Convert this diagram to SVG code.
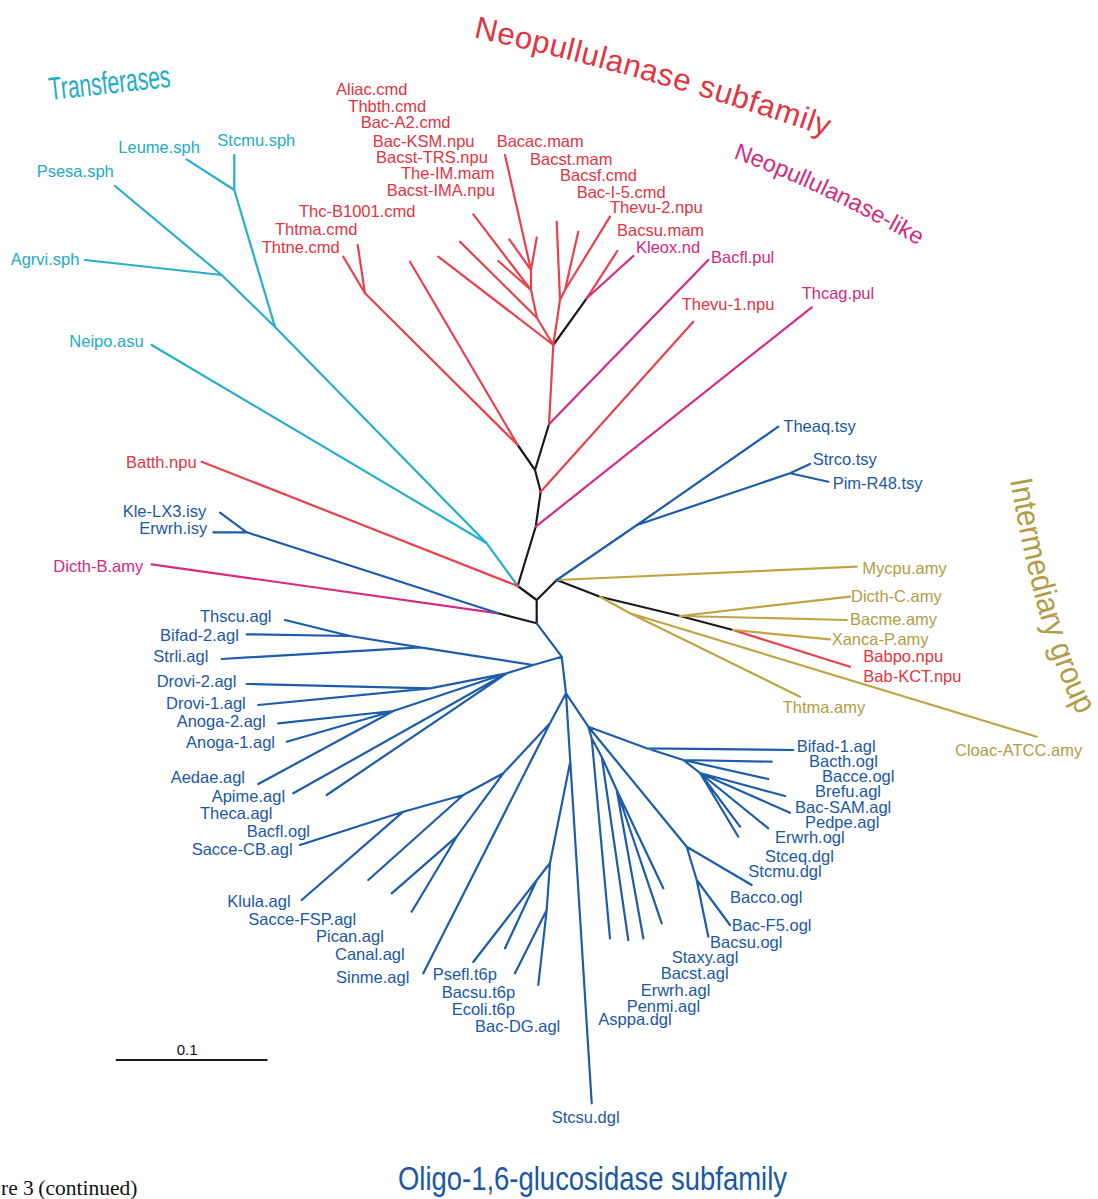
<svg xmlns="http://www.w3.org/2000/svg" width="1098" height="1199" viewBox="0 0 1098 1199">
<defs>
<style>
.e{fill:none;stroke-width:2.2;stroke-linecap:round;stroke-linejoin:round}
.k{stroke:#1a1a1a}.c{stroke:#25b0c8}.r{stroke:#e8414b}.m{stroke:#d62b80}.b{stroke:#1d5ca8}.g{stroke:#bfa446}
text{font-family:"Liberation Sans",Arial,sans-serif;font-size:16.5px}
.tc{fill:#22acc5}.tr{fill:#e5333f}.tm{fill:#d42a7e}.tb{fill:#1b58a3}.tg{fill:#b39c45}
.serif{font-family:"Liberation Serif","Times New Roman",serif;font-size:21.5px;fill:#111}
</style>
<path id="arcNeo" d="M473,37 Q665,80 830,138"/>
<path id="arcLike" d="M733,158 Q824,191 921,247"/>
<path id="arcInt" d="M1010,480 Q1038,640 1077,713"/>
</defs>
<rect width="1098" height="1199" fill="#fff"/>

<g id="connectors">
<path class="e k" d="M517.7,586 L536.7,600 L536.7,623.3 M536.7,600 L556.7,580 M498.3,613.3 L536.7,623.3 M517.7,586 L535.7,526.7 L540.7,491.7 L535,470 L517.7,445 M535,470 L549,424.3 M553.3,345 L586.7,298.3 M556.7,580 L600,596.7 L680,616 L733,630"/>
<path class="e c" d="M517.7,586 L486.7,543.3 L275,327 L234.3,190 L234.3,155 M486.7,543.3 L151.7,345 M275,327 L221.7,275 L115,186 M221.7,275 L85,260 M234.3,190 L186.7,159.3"/>
<path class="e r" d="M517.7,586 L201.7,461.7 M517.7,445 L365,293.3 L343.3,256.7 M365,293.3 L357.7,245 M517.7,445 L410,261.7 M549,424.3 L553.3,345 M540.7,491.7 L693.3,321.7 M733,630 L850,666.7
M553.3,345 L537,318 L531,290 L531,270 L505,155 M531,270 L536.7,237.7 M531,270 L509.3,239.3 M531,290 L473.3,214.3 M531,290 L498.3,261 M537,318 L460,241.7 M553.3,345 L438.3,256.7
M553.3,345 L560,300 L556.7,221.7 M560,300 L565,290 L578.3,231.7 M565,290 L610,216.7 M586.7,298.3 L617.3,251"/>
<path class="e m" d="M535.7,526.7 L811.7,307.3 M549,424.3 L708.3,260 M586.7,298.3 L633.3,256 M498.3,613.3 L151.7,564.3"/>
<path class="e g" d="M556.7,580 L856.7,566.7 M680,616 L850,596.7 M680,616 L846.7,620 M733,630 L830,639.3 M600,596.7 L630,613.3 L800,696.7 M630,613.3 L1036.7,736.7"/>
<path class="e b" d="M556.7,580 L637,525 L778.3,426.7 M637,525 L790,473.3 L810,464 M790,473.3 L828.3,481.7
M498.3,613.3 L246.7,532.3 L220,512.7 M246.7,532.3 L213.3,532.3
M536.7,623.3 L561.7,656.7 L566,693.3 L591.7,1103.3
M561.7,656.7 L533.3,665 L420,647.3 L350,636 L285,620 M350,636 L246.7,634.3 M420,647.3 L221.7,659
M533.3,665 L506.7,673.3 L430,688.3 L246.7,684 M430,688.3 L258.3,705
M506.7,673.3 L393.3,711 L278.3,723.3 M393.3,711 L286.7,741.7 M393.3,711 L258.3,784
M506.7,673.3 L293.3,793.3 M506.7,673.3 L326.7,795
M566,693.3 L550,723.3 L503.3,773.3 L463.3,795 L403.3,811.7 L300,845 M403.3,811.7 L301.7,900 M463.3,795 L368.3,880
M503.3,773.3 L456.7,836.7 L391.7,893.3 M456.7,836.7 L411.7,911.7 M550,723.3 L423.3,973.3
M570,763 L550,863 L473.3,962 M536.8,880 L505,948.3 M550,863 L546.7,910 L515,973.3 M546.7,910 L538.3,985
M566,693.3 L588.3,726.7 L646.7,748.3 L793.3,750
M646.7,748.3 L683.3,760 L771.7,761.7 M683.3,760 L768.3,779 M683.3,760 L700,773 L785,796 M700,773 L790,812.7 M700,773 L768.3,828.3 M700,773 L740,826.7 M700,773 L738.3,836.7
M588.3,726.7 L591.7,738.3 L610,938.3 M591.7,738.3 L601.7,756.7 L628.3,940 M601.7,756.7 L616.7,790 L643.3,938.3 M616.7,790 L661.7,923.3 M616.7,790 L663.3,888.3
M588.3,726.7 L686.7,846.7 L751.7,885 M686.7,846.7 L696.7,880 L730,925 M696.7,880 L708.3,936.7"/>
<path class="e k" d="M116.7,1060 L266.7,1060"/>
</g>

<g id="titles">
<text class="tc" x="50" y="100" style="font-size:32px" textLength="122" lengthAdjust="spacingAndGlyphs" transform="rotate(-6.2 50 100)">Transferases</text>
<text class="tr" style="font-size:31px;letter-spacing:0.6px"><textPath href="#arcNeo">Neopullulanase subfamily</textPath></text>
<text class="tm" style="font-size:23.5px"><textPath href="#arcLike">Neopullulanase-like</textPath></text>
<text class="tg" style="font-size:32px"><textPath href="#arcInt" textLength="246" lengthAdjust="spacingAndGlyphs">Intermediary group</textPath></text>
<text class="tb" x="398" y="1190" style="font-size:34px" textLength="389" lengthAdjust="spacingAndGlyphs">Oligo-1,6-glucosidase subfamily</text>
<text class="serif" x="1" y="1195">re 3</text>
<text class="serif" x="38.3" y="1195">(continued)</text>
<text x="176.7" y="1055" style="font-size:15px;fill:#111">0.1</text>
</g>

<g id="cyan-leaves">
<g id="n-leume"><text class="tc" x="118.3" y="152.7">Leume.sph</text></g>
<g id="n-stcmu-sph"><text class="tc" x="217.3" y="146">Stcmu.sph</text></g>
<g id="n-psesa"><text class="tc" x="36.7" y="176.7">Psesa.sph</text></g>
<g id="n-agrvi"><text class="tc" x="10.7" y="265">Agrvi.sph</text></g>
<g id="n-neipo"><text class="tc" x="69.3" y="346.7">Neipo.asu</text></g>
</g>

<g id="red-leaves">
<g id="n-aliac"><text class="tr" x="336" y="95">Aliac.cmd</text></g>
<g id="n-thbth"><text class="tr" x="348.3" y="111.7">Thbth.cmd</text></g>
<g id="n-bacA2"><text class="tr" x="360.7" y="128.3">Bac-A2.cmd</text></g>
<g id="n-bacKSM"><text class="tr" x="372.7" y="147.3">Bac-KSM.npu</text></g>
<g id="n-bacstTRS"><text class="tr" x="376" y="163">Bacst-TRS.npu</text></g>
<g id="n-theIM"><text class="tr" x="401" y="179.3">The-IM.mam</text></g>
<g id="n-bacstIMA"><text class="tr" x="386.7" y="196">Bacst-IMA.npu</text></g>
<g id="n-thcB1001"><text class="tr" x="299" y="216.7">Thc-B1001.cmd</text></g>
<g id="n-thtma-cmd"><text class="tr" x="275" y="235">Thtma.cmd</text></g>
<g id="n-thtne"><text class="tr" x="261.7" y="253.3">Thtne.cmd</text></g>
<g id="n-bacac"><text class="tr" x="496.7" y="147.3">Bacac.mam</text></g>
<g id="n-bacst-mam"><text class="tr" x="530" y="165">Bacst.mam</text></g>
<g id="n-bacsf"><text class="tr" x="560" y="180.7">Bacsf.cmd</text></g>
<g id="n-bacI5"><text class="tr" x="576.7" y="197.7">Bac-I-5.cmd</text></g>
<g id="n-thevu2"><text class="tr" x="610" y="213.3">Thevu-2.npu</text></g>
<g id="n-bacsu-mam"><text class="tr" x="617" y="236.3">Bacsu.mam</text></g>
<g id="n-kleox"><text class="tm" x="636" y="253.3">Kleox.nd</text></g>
<g id="n-bacfl-pul"><text class="tm" x="711" y="263.3">Bacfl.pul</text></g>
<g id="n-thevu1"><text class="tr" x="681.7" y="310">Thevu-1.npu</text></g>
<g id="n-thcag"><text class="tm" x="801.7" y="299.3">Thcag.pul</text></g>
<g id="n-batth"><text class="tr" x="126" y="468.3">Batth.npu</text></g>
<g id="n-dicthB"><text class="tm" x="53.3" y="571.7">Dicth-B.amy</text></g>
<g id="n-babpo"><text class="tr" x="863.3" y="661.7">Babpo.npu</text></g>
<g id="n-babKCT"><text class="tr" x="863.3" y="681.7">Bab-KCT.npu</text></g>
</g>

<g id="tsy-and-intermediary-leaves">
<g id="n-theaq"><text class="tb" x="783.3" y="431.7">Theaq.tsy</text></g>
<g id="n-strco"><text class="tb" x="812.7" y="465">Strco.tsy</text></g>
<g id="n-pimR48"><text class="tb" x="832.7" y="489.3">Pim-R48.tsy</text></g>
<g id="n-mycpu"><text class="tg" x="862.3" y="574">Mycpu.amy</text></g>
<g id="n-dicthC"><text class="tg" x="851" y="601.7">Dicth-C.amy</text></g>
<g id="n-bacme"><text class="tg" x="850" y="625">Bacme.amy</text></g>
<g id="n-xancaP"><text class="tg" x="831.7" y="645">Xanca-P.amy</text></g>
<g id="n-thtma-amy"><text class="tg" x="782.7" y="713.3">Thtma.amy</text></g>
<g id="n-cloac"><text class="tg" x="955" y="756">Cloac-ATCC.amy</text></g>
</g>

<g id="blue-leaves">
<g id="n-kleLX3"><text class="tb" x="122.7" y="517.3">Kle-LX3.isy</text></g>
<g id="n-erwrh-isy"><text class="tb" x="139.3" y="534">Erwrh.isy</text></g>
<g id="n-thscu"><text class="tb" x="200" y="621.7">Thscu.agl</text></g>
<g id="n-bifad2"><text class="tb" x="160" y="640.7">Bifad-2.agl</text></g>
<g id="n-strli"><text class="tb" x="153.3" y="662.3">Strli.agl</text></g>
<g id="n-drovi2"><text class="tb" x="156.7" y="687.3">Drovi-2.agl</text></g>
<g id="n-drovi1"><text class="tb" x="166" y="709.3">Drovi-1.agl</text></g>
<g id="n-anoga2"><text class="tb" x="176.7" y="727.3">Anoga-2.agl</text></g>
<g id="n-anoga1"><text class="tb" x="186" y="748.3">Anoga-1.agl</text></g>
<g id="n-aedae"><text class="tb" x="170.7" y="783.3">Aedae.agl</text></g>
<g id="n-apime"><text class="tb" x="211.7" y="801.7">Apime.agl</text></g>
<g id="n-theca"><text class="tb" x="200" y="819.3">Theca.agl</text></g>
<g id="n-bacfl-ogl"><text class="tb" x="246.7" y="836.7">Bacfl.ogl</text></g>
<g id="n-sacceCB"><text class="tb" x="191.7" y="855">Sacce-CB.agl</text></g>
<g id="n-klula"><text class="tb" x="227.3" y="906.7">Klula.agl</text></g>
<g id="n-sacceFSP"><text class="tb" x="248.3" y="925">Sacce-FSP.agl</text></g>
<g id="n-pican"><text class="tb" x="316" y="941.7">Pican.agl</text></g>
<g id="n-canal"><text class="tb" x="335" y="960">Canal.agl</text></g>
<g id="n-sinme"><text class="tb" x="336" y="983.3">Sinme.agl</text></g>
<g id="n-psefl"><text class="tb" x="432.7" y="980">Psefl.t6p</text></g>
<g id="n-bacsu-t6p"><text class="tb" x="441.7" y="998.3">Bacsu.t6p</text></g>
<g id="n-ecoli"><text class="tb" x="451.7" y="1015">Ecoli.t6p</text></g>
<g id="n-bacDG"><text class="tb" x="475" y="1031.7">Bac-DG.agl</text></g>
<g id="n-stcsu"><text class="tb" x="551.7" y="1123.3">Stcsu.dgl</text></g>
<g id="n-asppa"><text class="tb" x="598.3" y="1025">Asppa.dgl</text></g>
<g id="n-penmi"><text class="tb" x="626.7" y="1011.7">Penmi.agl</text></g>
<g id="n-erwrh-agl"><text class="tb" x="640.7" y="996">Erwrh.agl</text></g>
<g id="n-bacst-agl"><text class="tb" x="660.7" y="979.3">Bacst.agl</text></g>
<g id="n-staxy"><text class="tb" x="671.7" y="963.3">Staxy.agl</text></g>
<g id="n-bacsu-ogl"><text class="tb" x="710" y="948.3">Bacsu.ogl</text></g>
<g id="n-bacF5"><text class="tb" x="731.7" y="930.7">Bac-F5.ogl</text></g>
<g id="n-bacco"><text class="tb" x="730" y="903.3">Bacco.ogl</text></g>
<g id="n-stcmu-dgl"><text class="tb" x="748.3" y="876.7">Stcmu.dgl</text></g>
<g id="n-stceq"><text class="tb" x="765" y="861.7">Stceq.dgl</text></g>
<g id="n-erwrh-ogl"><text class="tb" x="775" y="843.3">Erwrh.ogl</text></g>
<g id="n-pedpe"><text class="tb" x="805" y="828.3">Pedpe.agl</text></g>
<g id="n-bacSAM"><text class="tb" x="795" y="813.3">Bac-SAM.agl</text></g>
<g id="n-brefu"><text class="tb" x="815" y="797">Brefu.agl</text></g>
<g id="n-bacce"><text class="tb" x="822" y="782">Bacce.ogl</text></g>
<g id="n-bacth"><text class="tb" x="809" y="767">Bacth.ogl</text></g>
<g id="n-bifad1"><text class="tb" x="796.7" y="752.3">Bifad-1.agl</text></g>
</g>
</svg>
